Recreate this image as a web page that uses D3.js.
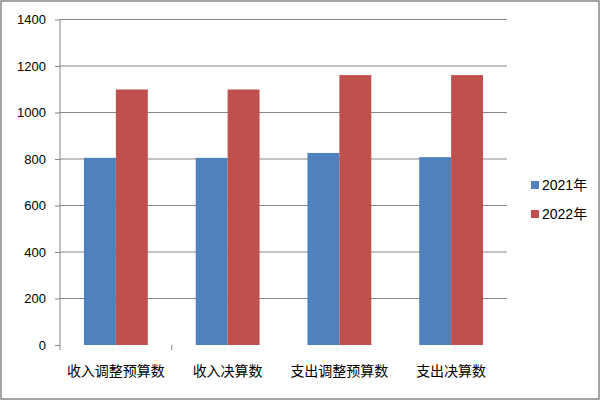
<!DOCTYPE html>
<html>
<head>
<meta charset="utf-8">
<script src="https://cdn.jsdelivr.net/npm/d3@7.9.0/dist/d3.min.js"></script>
<style>
  body { margin: 0; background: #fff; }
  svg { display: block; }
  .tick text { font-family: "Liberation Sans", Arial, sans-serif; font-size: 13px; fill: #000; }
</style>
</head>
<body>
<svg id="chart" width="600" height="400"></svg>
<script>
// Chart data
const categories = ['收入调整预算数', '收入决算数', '支出调整预算数', '支出决算数'];
const seriesNames = ['2021年', '2022年'];
const values2021 = [805, 805, 826, 808];
const values2022 = [1099, 1099, 1161, 1161];
const yTicks = [0, 200, 400, 600, 800, 1000, 1200, 1400];
const colors = ['#4F81BD', '#C0504D'];

const svg = d3.select('#chart');
const width = 600, height = 400;
const margin = { left: 60, right: 93, top: 19.5, bottom: 55 };

// Outer frame
svg.append('rect')
    .attr('x', 1).attr('y', 1)
    .attr('width', width - 2).attr('height', height - 2)
    .attr('fill', '#fff')
    .attr('stroke', '#868686')
    .attr('stroke-width', 1.5);

const x = d3.scaleBand()
    .domain(categories)
    .range([margin.left, width - margin.right])
    .paddingInner(0)
    .paddingOuter(0);

const y = d3.scaleLinear()
    .domain([0, 1400])
    .range([height - margin.bottom, margin.top]);

// Bars sit inside each band with Excel-like 150% gap
const barW = x.bandwidth() / 3.5;
const xs = d3.scaleBand()
    .domain(seriesNames)
    .range([0.75 * barW, 2.75 * barW]);

// Gridlines
svg.append('g')
    .selectAll('line')
    .data(yTicks.filter(d => d > 0))
    .join('line')
    .attr('x1', margin.left).attr('x2', width - margin.right)
    .attr('y1', d => y(d)).attr('y2', d => y(d))
    .attr('stroke', '#868686');

// Y axis
const yAxis = svg.append('g')
    .attr('transform', `translate(${margin.left},0)`)
    .call(d3.axisLeft(y).tickValues(yTicks).tickFormat(d3.format('d'))
        .tickSize(5).tickPadding(9).tickSizeOuter(0));
yAxis.select('.domain')
    .attr('stroke', '#868686')
    .attr('d', `M0,${y(1400)}V${y(0) + 5}`);
yAxis.selectAll('.tick line').attr('stroke', '#868686');

// Bars
const rows = categories.map((c, i) => ({ cat: c, vals: [values2021[i], values2022[i]] }));
const groups = svg.append('g')
    .selectAll('g')
    .data(rows)
    .join('g')
    .attr('transform', d => `translate(${x(d.cat)},0)`);

groups.selectAll('rect')
    .data(d => d.vals.map((v, j) => ({ name: seriesNames[j], v, j })))
    .join('rect')
    .attr('x', d => xs(d.name))
    .attr('width', xs.bandwidth())
    .attr('y', d => y(d.v))
    .attr('height', d => y(0) - y(d.v))
    .attr('fill', d => colors[d.j]);

// Category separator tick (only the first is visible in the original)
svg.append('line')
    .attr('x1', x(categories[1])).attr('x2', x(categories[1]))
    .attr('y1', y(0)).attr('y2', y(0) + 5)
    .attr('stroke', '#868686');

// Category labels
svg.append('g')
    .selectAll('text')
    .data(categories)
    .join('text')
    .attr('x', d => x(d) + x.bandwidth() / 2)
    .attr('y', y(0) + 31)
    .attr('text-anchor', 'middle')
    .attr('font-family', '"Noto Sans CJK SC", sans-serif')
    .attr('font-size', 14)
    .text(d => d);

// Legend
const legend = svg.append('g')
    .selectAll('g')
    .data(seriesNames)
    .join('g')
    .attr('transform', (d, i) => `translate(531,${181 + i * 29})`);

legend.append('rect')
    .attr('width', 8).attr('height', 8)
    .attr('fill', (d, i) => colors[i]);

legend.append('text')
    .attr('x', 11)
    .attr('y', 9)
    .attr('font-family', '"Liberation Sans", "Noto Sans CJK SC", sans-serif')
    .attr('font-size', 14)
    .text(d => d);
</script>
</body>
</html>
